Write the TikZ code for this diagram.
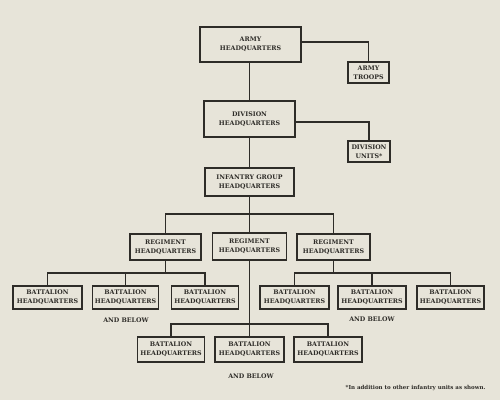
\documentclass[tikz,border=0pt]{standalone}
\usepackage{fontspec}
\setmainfont{DejaVu Serif}
\definecolor{paper}{HTML}{E7E4D9}
\definecolor{ink}{HTML}{2E2C28}
\begin{document}
\begin{tikzpicture}[x=1pt,y=-1pt,
  box/.style={draw=ink,line width=1.2pt,inner sep=0pt,align=center,
    font=\fontsize{6.3}{8.8}\selectfont\bfseries,text=ink},
  link/.style={draw=ink,line width=1.2pt},
  lbl/.style={font=\fontsize{6.3}{8}\selectfont\bfseries,text=ink}]
\fill[paper] (0,0) rectangle (500,400);
\useasboundingbox (0,0) rectangle (500,400);
% boxes
\node[box,minimum width=101pt,minimum height=35pt] (army) at (250.5,44.5) {ARMY\\HEADQUARTERS};
\node[box,minimum width=41pt,minimum height=21pt] (troops) at (368.5,72.5) {ARMY\\TROOPS};
\node[box,minimum width=91pt,minimum height=36pt] (div) at (249.5,119) {DIVISION\\HEADQUARTERS};
\node[box,minimum width=42pt,minimum height=21pt] (units) at (369,151.5) {DIVISION\\UNITS*};
\node[box,minimum width=89pt,minimum height=28pt] (inf) at (249.5,182) {INFANTRY GROUP\\HEADQUARTERS};
\node[box,minimum width=71pt,minimum height=26pt] (reg1) at (165.5,247) {REGIMENT\\HEADQUARTERS};
\node[box,minimum width=74pt,minimum height=27pt] (reg2) at (249.5,246.5) {REGIMENT\\HEADQUARTERS};
\node[box,minimum width=73pt,minimum height=26pt] (reg3) at (333.5,247) {REGIMENT\\HEADQUARTERS};
\foreach \n/\x/\w in {b1/47.5/69,b2/125.5/66,b3/205/67,b4/294.5/69,b5/372/68,b6/450.5/67}
  \node[box,minimum width=\w pt,minimum height=23pt] (\n) at (\x,297.5) {BATTALION\\HEADQUARTERS};
\foreach \n/\x/\w in {b7/171/67,b8/249.5/69,b9/328/68}
  \node[box,minimum width=\w pt,minimum height=25pt] (\n) at (\x,349.5) {BATTALION\\HEADQUARTERS};
% labels
\node[lbl] (ab1) at (126,320) {AND BELOW};
\node[lbl] (ab2) at (372,319.5) {AND BELOW};
\node[lbl] (ab3) at (251,376) {AND BELOW};
\node[lbl,anchor=east,font=\fontsize{5.5}{7}\selectfont\bfseries] (note) at (489,388) {*In addition to other infantry units as shown.};
% connectors
\coordinate (ra) at (0,214);
\coordinate (rl) at (0,273);
\coordinate (rb) at (0,324);
\draw[link] ([yshift=2.5pt]army.east) -| (troops.north);
\draw[link] ([yshift=-3pt]div.east) -| (units.north);
\draw[link] (div.north |- army.south) -- (div.north);
\draw[link] (div.south) -- (inf.north);
\draw[link] (inf.south) -- (reg2.north);
\draw[link] (reg1.north) |- (ra -| reg3.north) -- (reg3.north);
\draw[link] (reg1.south) -- (rl -| reg1.south);
\draw[link] (b1.north) |- (rl -| b3.north) -- (b3.north);
\draw[link] (b2.north) -- (rl -| b2.north);
\draw[link] (reg3.south) -- (rl -| reg3.south);
\draw[link] (b4.north) |- (rl -| b6.north) -- (b6.north);
\draw[link] (b5.north) -- (rl -| b5.north);
\draw[link] (reg2.south) -- (b8.north);
\draw[link] (b7.north) |- (rb -| b9.north) -- (b9.north);
\end{tikzpicture}
\end{document}
